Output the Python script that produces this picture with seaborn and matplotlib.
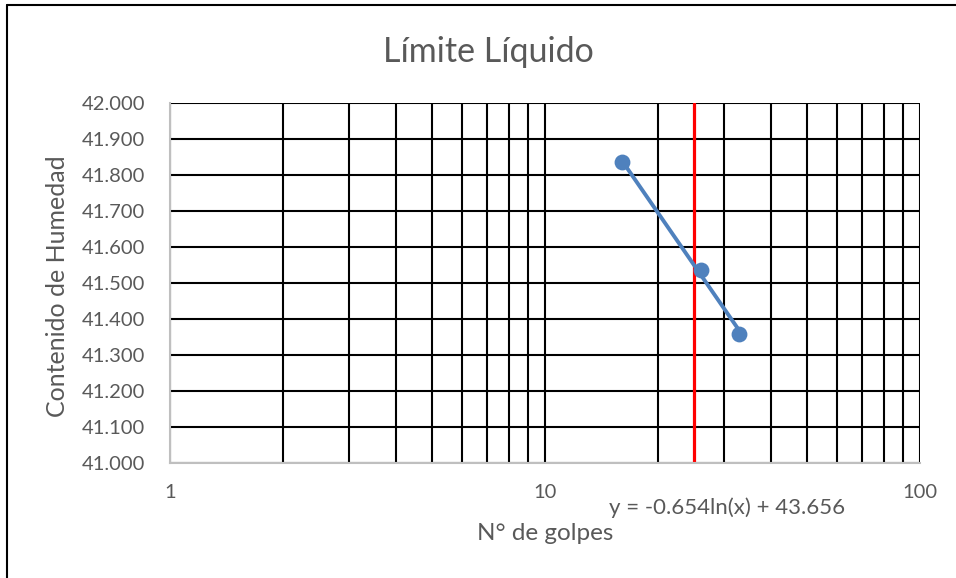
import numpy as np
import pandas as pd
import matplotlib
matplotlib.use("Agg")
import matplotlib.pyplot as plt
from matplotlib.lines import Line2D
from matplotlib.ticker import FixedLocator, NullFormatter, FixedFormatter
import seaborn as sns

# Data
golpes = [16, 26, 33]
humedad = [41.837, 41.537, 41.358]
x_ref = 25
y_ticks = [41.0, 41.1, 41.2, 41.3, 41.4, 41.5, 41.6, 41.7, 41.8, 41.9, 42.0]
x_major = [1, 10, 100]
x_labels = ["1", "10", "100"]
title = "Límite Líquido"
xlabel = "N° de golpes"
ylabel = "Contenido de Humedad"
equation = "y = -0.654ln(x) + 43.656"

sns.set_theme(style="white")
plt.rcParams['font.family'] = ['Lato', 'DejaVu Sans']
txt = "#595959"

fig = plt.figure(figsize=(9.56, 5.78), dpi=100)
ax = fig.add_axes([170/956, 1-463/578, 750/956, 360/578])

df = pd.DataFrame({"golpes": golpes, "humedad": humedad})
# logarithmic trendline fitted to data
b, a = np.polyfit(np.log(df["golpes"]), df["humedad"], 1)
tr = pd.DataFrame({"x": [min(golpes), max(golpes)]})
tr["y"] = b*np.log(tr["x"]) + a

ax.set_xscale("log")
ax.set_xlim(1, 100)
ax.set_ylim(41.0, 42.0)

# gridlines
minor = [v*d for d in (1, 10) for v in range(2, 10)]
ax.xaxis.set_major_locator(FixedLocator(x_major))
ax.xaxis.set_major_formatter(FixedFormatter(x_labels))
ax.xaxis.set_minor_locator(FixedLocator(minor))
ax.xaxis.set_minor_formatter(NullFormatter())
ax.yaxis.set_major_locator(FixedLocator(y_ticks))
ax.set_yticklabels([f"{v:.3f}" for v in y_ticks])
ax.grid(True, which="both", axis="x", color="black", linewidth=1.5)
ax.grid(True, which="major", axis="y", color="black", linewidth=1.5)
ax.set_axisbelow(True)

ax.axvline(x_ref, color="#FF0000", linewidth=2.3, zorder=3)
sns.lineplot(data=tr, x="x", y="y", ax=ax, color="#4F81BD", linewidth=2.8, zorder=4)
sns.scatterplot(data=df, x="golpes", y="humedad", ax=ax, color="#4F81BD", s=130,
                edgecolor="#4F81BD", linewidth=0, zorder=5)

for s in ["top", "right"]:
    ax.spines[s].set_visible(False)
for s in ["left", "bottom"]:
    ax.spines[s].set_color("#BFBFBF")
    ax.spines[s].set_linewidth(1.5)
    ax.spines[s].set_zorder(6)

ax.tick_params(axis="both", which="both", length=0, colors=txt, labelsize=14.5)
ax.tick_params(axis="y", pad=18)
ax.tick_params(axis="x", pad=15)
ax.set_xlabel("")
ax.set_ylabel("")

fig.text(488/956, 1-52/578, title, ha="center", va="center", fontsize=24.5, color=txt)
fig.text(545/956, 1-533/578, xlabel, ha="center", va="center", fontsize=17.5, color=txt)
fig.text(58/956, 1-286/578, ylabel, ha="center", va="center", rotation=90, fontsize=18, color=txt)
fig.text(727/956, 1-508/578, equation, ha="center", va="center", fontsize=16, color=txt)

# chart border (top and left visible)
fig.add_artist(Line2D([7/956, 7/956], [0, 1-5/578], transform=fig.transFigure, color="black", linewidth=1.5))
fig.add_artist(Line2D([7/956, 1], [1-5/578, 1-5/578], transform=fig.transFigure, color="black", linewidth=1.5))

fig.savefig("out.png", dpi=100)
